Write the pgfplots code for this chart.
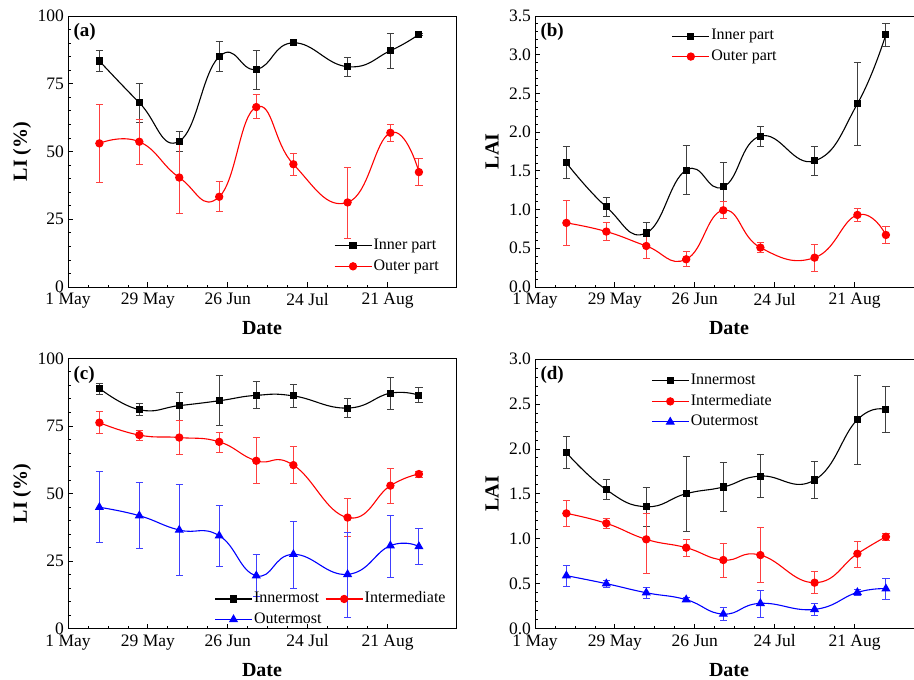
\documentclass[border=0pt]{standalone}
\usepackage{pgfplots}
\pgfplotsset{compat=1.18}
\usepackage{pgfplotstable}
\usepackage{fontspec}
\setmainfont{Liberation Serif}

% x = days after 1 May; y, upper and lower end of the error bar
\pgfplotstableread{
x y hi lo
11 83.4 87.2 79.4
25 68.0 75.1 60.8
39 53.8 57.5 49.9
53 85.0 90.6 79.7
66 80.3 87.4 73.0
79 90.1 90.9 89.0
98 81.3 84.6 77.8
113 87.2 93.6 80.7
123 93.2 93.6 92.8
}\ainner
\pgfplotstableread{
x y hi lo
11 53.0 67.4 38.7
25 53.6 61.9 45.3
39 40.4 53.2 27.3
53 33.3 38.9 27.7
66 66.4 71.1 62.1
79 45.3 49.3 41.3
98 31.2 44.1 18.0
113 56.9 60.0 53.6
123 42.4 47.3 37.4
}\aouter
\pgfplotstableread{
x y hi lo
11 1.603 1.81 1.40
25 1.034 1.16 0.905
39 0.698 0.836 0.556
53 1.509 1.83 1.19
66 1.293 1.61 0.978
79 1.948 2.08 1.815
98 1.629 1.82 1.44
113 2.366 2.90 1.83
123 3.263 3.405 3.11
}\binner
\pgfplotstableread{
x y hi lo
11 0.828 1.116 0.543
25 0.716 0.832 0.603
39 0.530 0.69 0.375
53 0.358 0.457 0.263
66 0.991 1.103 0.884
79 0.509 0.569 0.448
98 0.379 0.556 0.203
113 0.931 1.017 0.841
123 0.672 0.780 0.565
}\bouter
\pgfplotstableread{
x y hi lo
11 88.9 90.8 86.8
25 81.0 83.4 78.9
39 82.5 87.5 77.2
53 84.3 93.5 75.1
66 86.3 91.5 81.3
79 86.1 90.4 81.9
98 81.6 85.2 78.1
113 87.1 92.9 81.0
123 86.3 89.3 83.5
}\cinner
\pgfplotstableread{
x y hi lo
11 76.2 80.4 72.3
25 71.6 73.5 69.8
39 70.7 77.0 64.5
53 69.1 72.6 65.2
66 62.1 70.8 53.6
79 60.5 67.3 53.8
98 41.1 48.1 34.0
113 52.9 59.3 46.4
123 57.2 58.3 56.1
}\cmid
\pgfplotstableread{
x y hi lo
11 44.9 58.1 31.9
25 41.8 54.1 29.6
39 36.5 53.3 19.7
53 34.4 45.5 23.2
66 19.6 27.3 11.8
79 27.5 39.7 15.0
98 20.1 35.5 4.3
113 30.7 41.9 18.9
123 30.4 37.1 23.9
}\couter
\pgfplotstableread{
x y hi lo
11 1.958 2.136 1.784
25 1.546 1.657 1.439
39 1.357 1.576 1.138
53 1.502 1.913 1.083
66 1.576 1.847 1.301
79 1.698 1.939 1.457
98 1.654 1.858 1.450
113 2.325 2.822 1.828
123 2.436 2.692 2.184
}\dinner
\pgfplotstableread{
x y hi lo
11 1.283 1.431 1.138
25 1.172 1.227 1.116
39 0.994 1.283 0.616
53 0.901 0.990 0.805
66 0.764 0.953 0.575
79 0.819 1.123 0.515
98 0.512 0.638 0.393
113 0.834 0.975 0.682
123 1.023 1.060 0.986
}\dmid
\pgfplotstableread{
x y hi lo
11 0.590 0.701 0.471
25 0.501 0.538 0.463
39 0.400 0.463 0.337
53 0.323 0.345 0.300
66 0.163 0.237 0.096
79 0.282 0.430 0.122
98 0.215 0.282 0.145
113 0.404 0.434 0.374
123 0.445 0.560 0.326
}\douter

\pgfplotsset{
  panel/.style={
    scale only axis, width=388pt, height=271pt, anchor=south west,
    xmin=0, xmax=136,
    xtick={0,28,56,84,112},
    xticklabels={1 May,29 May,26 Jun,24 Jul,21 Aug},
    minor x tick num=3, minor y tick num=4,
    tick align=inside, tick pos=left,
    major tick length=5pt, minor tick length=2.5pt,
    every tick/.style={black, line width=0.8pt},
    axis line style={line width=0.9pt},
    /pgf/number format/assume math mode=true,
    tick label style={font=\fontsize{17.5}{17.5}\selectfont},
    xticklabel style={yshift=-2.5pt},
    yticklabel style={xshift=-0.5pt},
    xlabel={Date},
    label style={font=\fontsize{20}{20}\selectfont\bfseries},
    xlabel style={at={([yshift=-41pt]axis description cs:0.5,0)}, anchor=center},
    legend style={draw=none, fill=none, font=\fontsize{16}{16}\selectfont,
      inner sep=0pt, row sep=3pt, anchor=north west,
      nodes={inner sep=1.5pt, text height=11pt, text depth=3.5pt}},
    legend image code/.code={\draw[mark repeat=2, mark phase=2, #1]
      plot coordinates {(0pt,0pt) (18.5pt,0pt) (37pt,0pt)};},
    legend cell align=left,
  },
  lai/.style={
    yticklabel style={/pgf/number format/.cd, fixed, fixed zerofill, precision=1},
  },
  ser/.style={line width=1.1pt, smooth, tension=0.8, #1,
    mark options={solid, fill=#1},
    /pgfplots/error bars/y dir=both,
    /pgfplots/error bars/y explicit,
    /pgfplots/error bars/error bar style={#1!75, line width=0.9pt},
    /pgfplots/error bars/error mark options={rotate=90, #1!75, mark size=3.6pt, line width=0.9pt}},
  /pgfplots/table/errtab/.style={x=x, y=y,
    y error plus expr=\thisrow{hi}-\thisrow{y},
    y error minus expr=\thisrow{y}-\thisrow{lo}},
}

\begin{document}
\begin{tikzpicture}
% (a)
\begin{axis}[panel, at={(68pt,-287pt)},
    ymin=0, ymax=100, ytick={0,25,50,75,100},
    ylabel={LI (\%)},
    ylabel style={at={([xshift=-46pt]axis description cs:0,0.5)}, anchor=center},
    legend style={at={(0.685,0.185)}}]
  \addplot[ser=black, mark=square*, mark size=3pt] table[errtab] {\ainner};
  \addlegendentry{Inner part}
  \addplot[ser=red, mark=*, mark size=3.6pt] table[errtab] {\aouter};
  \addlegendentry{Outer part}
  \node[font=\fontsize{19}{19}\selectfont\bfseries, anchor=north west]
    at (rel axis cs:0,1) [xshift=2pt, yshift=-4pt] {(a)};
\end{axis}
% (b)
\begin{axis}[panel, lai, at={(535pt,-287pt)},
    ymin=0, ymax=3.5, ytick={0,0.5,...,3.5},
    ylabel={LAI},
    ylabel style={at={([xshift=-43pt]axis description cs:0,0.5)}, anchor=center},
    legend style={at={(0.352,0.959)}}]
  \addplot[ser=black, mark=square*, mark size=3pt] table[errtab] {\binner};
  \addlegendentry{Inner part}
  \addplot[ser=red, mark=*, mark size=3.6pt] table[errtab] {\bouter};
  \addlegendentry{Outer part}
  \node[font=\fontsize{19}{19}\selectfont\bfseries, anchor=north west]
    at (rel axis cs:0,1) [xshift=2pt, yshift=-4pt] {(b)};
\end{axis}
% (c)
\begin{axis}[panel, at={(68pt,-628.7pt)}, height=270.4pt,
    ymin=0, ymax=100, ytick={0,25,50,75,100},
    ylabel={LI (\%)},
    ylabel style={at={([xshift=-46pt]axis description cs:0,0.5)}, anchor=center},
    legend columns=2,
    legend style={at={(0.377,0.143)}, /tikz/every even column/.append style={column sep=2pt}}]
  \addplot[ser=black, mark=square*, mark size=3pt] table[errtab] {\cinner};
  \addlegendentry{Innermost}
  \addplot[ser=red, mark=*, mark size=3.6pt] table[errtab] {\cmid};
  \addlegendentry{Intermediate}
  \addplot[ser=blue, mark=triangle*, mark size=4.2pt] table[errtab] {\couter};
  \addlegendentry{Outermost}
  \node[font=\fontsize{19}{19}\selectfont\bfseries, anchor=north west]
    at (rel axis cs:0,1) [xshift=2pt, yshift=-4pt] {(c)};
\end{axis}
% (d)
\begin{axis}[panel, lai, at={(535pt,-628.7pt)}, height=269.7pt,
    ymin=0, ymax=3, ytick={0,0.5,...,3},
    ylabel={LAI},
    ylabel style={at={([xshift=-43pt]axis description cs:0,0.5)}, anchor=center},
    legend style={at={(0.299,0.952)}}]
  \addplot[ser=black, mark=square*, mark size=3pt] table[errtab] {\dinner};
  \addlegendentry{Innermost}
  \addplot[ser=red, mark=*, mark size=3.6pt] table[errtab] {\dmid};
  \addlegendentry{Intermediate}
  \addplot[ser=blue, mark=triangle*, mark size=4.2pt] table[errtab] {\douter};
  \addlegendentry{Outermost}
  \node[font=\fontsize{19}{19}\selectfont\bfseries, anchor=north west]
    at (rel axis cs:0,1) [xshift=2pt, yshift=-4pt] {(d)};
\end{axis}
\pgfresetboundingbox
\useasboundingbox (0pt,0pt) rectangle (914pt,-680pt);
\end{tikzpicture}
\end{document}
